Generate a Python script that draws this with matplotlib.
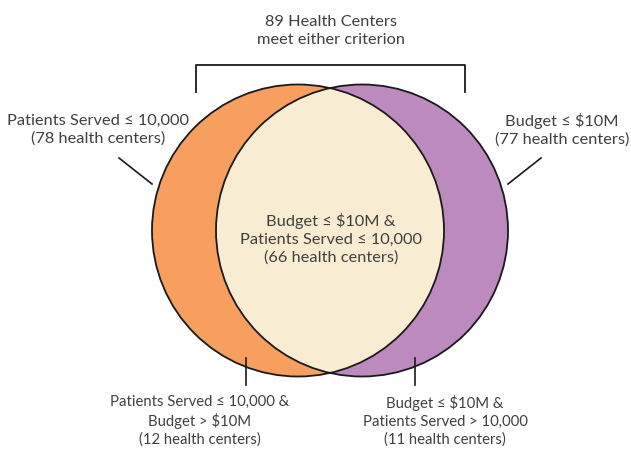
import matplotlib
matplotlib.use("Agg")
import matplotlib.pyplot as plt
from matplotlib.patches import Circle

# counts per region
total_either = 89
patients_only_le = 78      # Patients Served <= 10,000
budget_le = 77             # Budget <= $10M
both = 66
patients_only = 12         # patients <= 10k & budget > 10M
budget_only = 11           # budget <= 10M & patients > 10k

orange = "#F79F5E"
purple = "#BC8ABE"
cream = "#F8EDD3"
txt = "#404040"

plt.rcParams['font.family'] = ['Lato', 'DejaVu Sans']

fig = plt.figure(figsize=(6.31, 4.51), dpi=100)
ax = fig.add_axes([0, 0, 1, 1])
ax.set_xlim(0, 631)
ax.set_ylim(451, 0)
ax.set_aspect('equal')
ax.axis('off')

r = 146
cl = (298, 230.5)
cr = (362, 230.5)

left = Circle(cl, r, facecolor=orange, edgecolor='none', zorder=1)
right = Circle(cr, r, facecolor=purple, edgecolor='none', zorder=1)
ax.add_patch(left)
ax.add_patch(right)
mid = Circle(cl, r, facecolor=cream, edgecolor='none', zorder=2)
ax.add_patch(mid)
mid.set_clip_path(right)
for c in (cl, cr):
    ax.add_patch(Circle(c, r, facecolor='none', edgecolor='#1a1a1a', lw=1.3, zorder=3))

# bracket on top
ax.plot([196, 196, 465, 465], [92, 65, 65, 92], color='#1a1a1a', lw=1.3)
# leader lines
ax.plot([119, 152], [158, 184], color='#1a1a1a', lw=1.2)
ax.plot([541, 508], [158, 184], color='#1a1a1a', lw=1.2)
ax.plot([246, 246], [358, 385], color='#1a1a1a', lw=1.2)
ax.plot([415, 415], [358, 385], color='#1a1a1a', lw=1.2)

fs = 11.8
ls = 1.36
ax.text(331, 31, f"{total_either} Health Centers\nmeet either criterion",
        ha='center', va='center', fontsize=fs, color=txt, linespacing=ls)
ax.text(98, 130, f"Patients Served \u2264 10,000\n({patients_only_le} health centers)",
        ha='center', va='center', fontsize=fs, color=txt, linespacing=ls)
ax.text(562, 130, f"Budget \u2264 $10M\n({budget_le} health centers)",
        ha='center', va='center', fontsize=fs, color=txt, linespacing=ls)
ax.text(331, 239, f"Budget \u2264 $10M &\nPatients Served \u2264 10,000\n({both} health centers)",
        ha='center', va='center', fontsize=fs, color=txt, linespacing=ls)
ax.text(200, 421, f"Patients Served \u2264 10,000 &\nBudget > $10M\n({patients_only} health centers)",
        ha='center', va='center', fontsize=10.7, color=txt, linespacing=1.3)
ax.text(445, 421, f"Budget \u2264 $10M &\nPatients Served > 10,000\n({budget_only} health centers)",
        ha='center', va='center', fontsize=10.7, color=txt, linespacing=1.3)

fig.savefig("out.png", dpi=100, facecolor='white')
